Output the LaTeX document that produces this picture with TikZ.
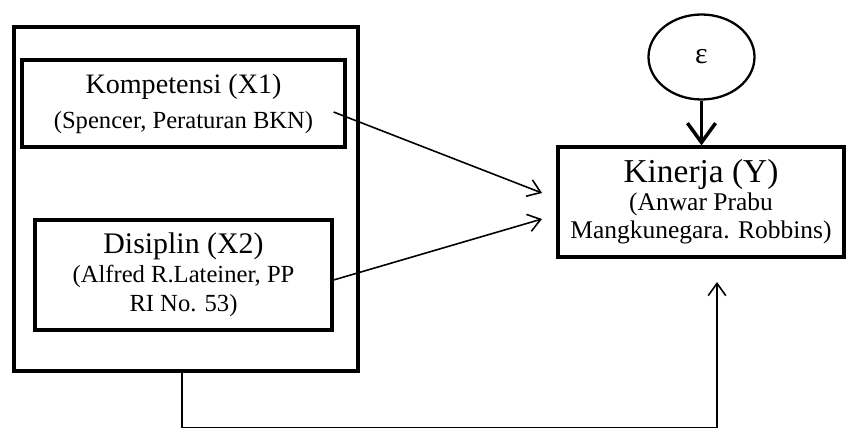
\documentclass[tikz,border=0pt]{standalone}
\usepackage{fontspec}
\setmainfont{Liberation Serif}
\usetikzlibrary{shapes.geometric,arrows.meta}

\begin{document}
\begin{tikzpicture}[
        varbox/.style={rectangle, draw=black, line width=1.8pt, align=center, inner sep=2pt},
        groupbox/.style={rectangle, draw=black, line width=1.8pt, minimum width=6.88cm, minimum height=6.88cm},
        errnode/.style={ellipse, draw=black, line width=1.3pt, minimum width=2.12cm, minimum height=1.7cm, inner sep=0pt},
        arrow/.style={-{Straight Barb[length=7pt, width=10pt]}, line width=0.9pt},
        bigarrow/.style={-{Straight Barb[length=11pt, width=16pt]}, line width=2pt},
        link/.style={line width=0.9pt}
        ]
    \useasboundingbox (0,0) rectangle (16.92,8.54);

    % exogenous block
    \node[groupbox] (group) at (3.72, 4.56) {};
    \node[varbox, minimum width=6.46cm, minimum height=1.74cm, font=\fontsize{14}{20}\selectfont] (komp) at (3.67, 6.47)
        {{\fontsize{16}{20}\selectfont Kompetensi (X1)}\\(Spencer, Peraturan BKN)};
    \node[varbox, minimum width=5.94cm, minimum height=2.2cm, font=\fontsize{14}{16.5}\selectfont] (disp) at (3.67, 3.04)
        {{\fontsize{17}{16.5}\selectfont Disiplin (X2)}\\(Alfred R.Lateiner, PP\\RI No. 53)};

    % endogenous
    \node[varbox, minimum width=5.72cm, minimum height=2.2cm, font=\fontsize{14.5}{16}\selectfont] (kin) at (14.02, 4.5)
        {{\fontsize{19}{16}\selectfont Kinerja (Y)}\\(Anwar Prabu\\Mangkunegara. Robbins)};
    \node[errnode, font=\fontsize{17}{20}\selectfont] (err) at (14.03, 7.4) {\raisebox{-2pt}{ε}};

    \coordinate (inA) at (10.84, 4.68);
    \coordinate (inB) at (10.84, 4.16);
    \coordinate (inC) at (14.34, 2.9);

    \draw[arrow] ([shift={(-0.26,-0.17)}]komp.east) -- (inA);
    \draw[arrow] ([yshift=-0.1cm]disp.east) -- (inB);
    \draw[bigarrow] (err.south) -- (err.south |- kin.north);
    \draw[arrow] ([xshift=-0.08cm]group.south) -- ++(0,-1.1) -| (inC);

\end{tikzpicture}
\end{document}
